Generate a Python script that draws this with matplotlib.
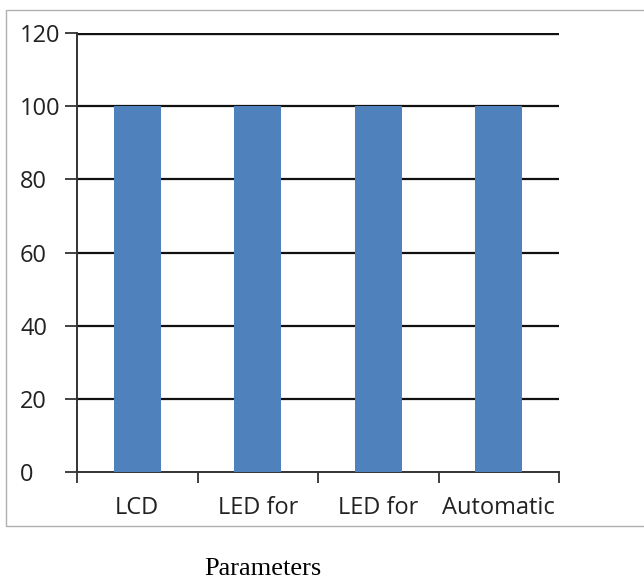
import matplotlib.pyplot as plt
from matplotlib.patches import Rectangle
import numpy as np

categories = ["LCD", "LED for", "LED for", "Automatic"]
values = [100, 100, 100, 100]
y_ticks = [0, 20, 40, 60, 80, 100, 120]

fig = plt.figure(figsize=(6.44, 5.82), dpi=100)
ax = fig.add_axes([77 / 644, 110 / 582, 482 / 644, 439 / 582])

x = np.arange(len(categories))
ax.bar(x, values, width=0.39, color="#4F81BD", zorder=3)

ax.set_xlim(-0.5, len(categories) - 0.5)
ax.set_ylim(0, 120)
ax.set_yticks(y_ticks)
# y labels are left aligned, starting near the frame edge
ax.set_yticklabels([str(v) for v in y_ticks], fontsize=17, family="Open Sans",
                   color="#222222", ha="left")

# horizontal gridlines in black
for v in y_ticks[1:]:
    ax.axhline(v, color="#111111", lw=2.4 if v == 120 else 1.6, zorder=1)

ax.set_xticks(x)
ax.set_xticklabels(categories, fontsize=17, family="Open Sans", color="#222222")
ax.tick_params(axis="x", which="major", length=0, pad=17.5)
ax.set_xticks(np.arange(len(categories) + 1) - 0.5, minor=True)
ax.tick_params(axis="x", which="minor", length=8, width=1.3, color="#333333", direction="out")
ax.tick_params(axis="y", length=9, width=1.3, color="#333333", pad=32)

for side in ["top", "right"]:
    ax.spines[side].set_visible(False)
ax.spines["left"].set_linewidth(1.4)
ax.spines["left"].set_color("#333333")
ax.spines["bottom"].set_linewidth(1.4)
ax.spines["bottom"].set_color("#333333")

# frame around the chart area
fig.patches.append(Rectangle((6 / 644, 56 / 582), 640 / 644, 516 / 582,
                             transform=fig.transFigure, fill=False,
                             edgecolor="#b0b0b0", lw=1.0))

fig.text(263 / 644, 13 / 582, "Parameters", ha="center", va="center",
         fontsize=19, family="Liberation Serif")

fig.savefig("out.png", dpi=100)
